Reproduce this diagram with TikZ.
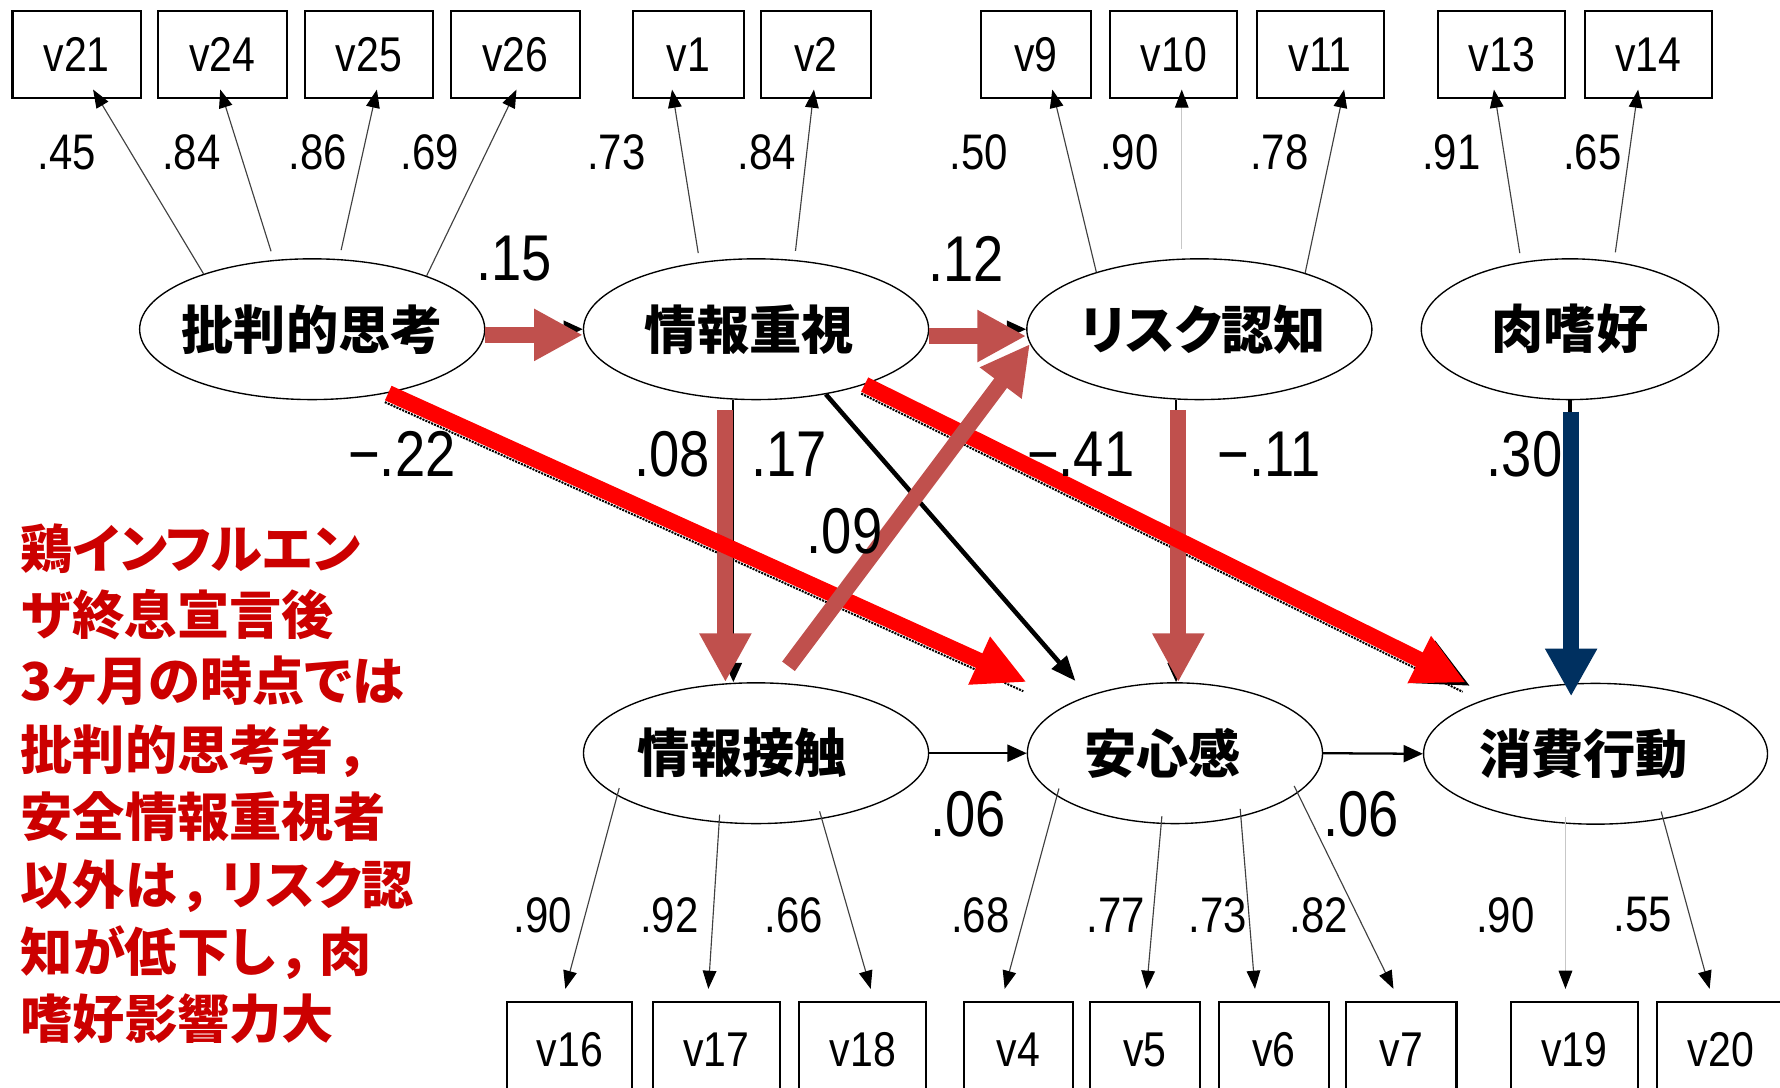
\documentclass[tikz,border=0pt]{standalone}
\usepackage{graphicx}
\usepackage{fontspec}
\setmainfont{Liberation Sans}
\newfontfamily\jpfont{Noto Sans CJK JP}[RawFeature=+palt]
\newfontfamily\jpred{Noto Sans CJK JP}[RawFeature=+palt]
\usetikzlibrary{arrows.meta,calc,shapes.geometric}
\definecolor{brn}{RGB}{192,80,77}
\definecolor{nvy}{RGB}{0,48,96}
\definecolor{txtred}{RGB}{204,0,0}
\newcommand{\nar}[1]{\scalebox{0.84}[1]{#1}}
\newcommand{\elab}[2][0pt]{\makebox[0pt]{\hspace*{#1}#2}}
\newcommand{\jcomma}{\hspace{9pt}，\hspace{7pt}}
\begin{document}
\begin{tikzpicture}[x=1pt,y=-1pt,
  obs/.style={draw,line width=1.8pt,minimum height=76pt,inner sep=0pt,font=\fontsize{43}{43}\selectfont},
  obsb/.style={obs,minimum height=84pt},
  lat/.style={ellipse,draw,line width=1.2pt,minimum height=124pt,inner sep=0pt,font=\jpfont\bfseries\fontsize{46}{46}\selectfont},
  ld/.style={line width=1pt,black!75,-{Triangle[length=16pt,width=12pt,color=black]}},
  ldl/.style={ld,black!22},
  ldb/.style={ld,shorten <=-7pt},
  ldbl/.style={ldl,shorten <=-7pt},
  sl/.style={font=\fontsize{44}{44}\selectfont,inner sep=0pt},
  bl/.style={font=\fontsize{57}{57}\selectfont,inner sep=0pt},
  brw/.style={line width=14pt,brn,-{Triangle[length=43pt,width=43pt]}},
  rd/.style={line width=14pt,red,-{Triangle[length=46pt,width=43pt]}},
  nv/.style={line width=14pt,nvy,-{Triangle[length=42pt,width=43pt]}},
  thinarr/.style={line width=2pt,black,-{Triangle[length=17pt,width=15pt]}},
  redtxt/.style={anchor=base west,inner sep=0pt,text=txtred,font=\jpred\bfseries\fontsize{46}{46}\selectfont}
]
\useasboundingbox (0,0) rectangle (1568,958);
\fill[white] (0,0) rectangle (1568,958);

% observed variables
\foreach \n/\x/\w in {v21/67.5/113, v24/196/113, v25/325/113, v26/454/113, v1/606.5/98, v2/718.5/97, v9/912.5/97, v10/1034/112, v11/1163/112, v13/1323/112, v14/1452/112}
  \node[obs,minimum width=\w] (\n) at (\x,48) {\nar{\n}};
\foreach \n/\x/\w in {v16/502/110, v17/631/112, v18/760/112, v4/897/96, v5/1008.5/97, v6/1122/97, v7/1234.5/97, v19/1387/112, v20/1516/112}
  \node[obsb,minimum width=\w] (\n) at (\x,925) {\nar{\n}};

% latent variables
\node[lat,minimum width=304pt] (e1) at (275,290) {\elab{批判的思考}};
\node[lat,minimum width=304pt] (e2) at (666,290) {\elab[-12pt]{情報重視}};
\node[lat,minimum width=304pt] (e3) at (1056.5,290) {\elab[7pt]{リスク認知}};
\node[lat,minimum width=262pt] (e4) at (1383,290) {\elab{肉嗜好}};
\node[lat,minimum width=304pt] (e5) at (666,663.5) {\elab[-24pt]{情報接触}};
\node[lat,minimum width=260pt] (e6) at (1035,663.5) {\elab[-22pt]{安心感}};
\node[lat,minimum width=303pt] (e7) at (1405.5,664) {\elab[-21pt]{消費行動}};

\coordinate (tipA) at ($(e6.west |- e6.north)$);
\coordinate (tipB) at ($(e7.west |- e7.north)+(38,0)$);
\coordinate (tipC) at ($(e6.west |- e6.north)+(43,-1)$);

% loadings (top)
\draw[ld] (e1.153.2) -- ([xshift=14.5pt,yshift=8pt]v21.south);
\draw[ld,shorten <=8pt] (e1.119.1) -- ([xshift=-2pt,yshift=8pt]v24.south);
\draw[ld,shorten <=8pt] (e1.69.6) -- ([xshift=7pt,yshift=8pt]v25.south);
\draw[ld] (e1.25.7) -- ([xshift=1pt,yshift=8pt]v26.south);
\draw[ld,shorten <=8pt] (e2.130.1) -- ([xshift=-14.5pt,yshift=8pt]v1.south);
\draw[ld,shorten <=8pt] (e2.61.5) -- ([xshift=-1.5pt,yshift=8pt]v2.south);
\draw[ld] (e3.151.4) -- ([xshift=14.5pt,yshift=8pt]v9.south);
\draw[ldl,shorten <=8pt] ([xshift=-15.5pt]e3.north) -- ([xshift=7pt,yshift=8pt]v10.south);
\draw[ld] (e3.28.1) -- ([xshift=21pt,yshift=8pt]v11.south);
\draw[ld,shorten <=8pt] (e4.126.1) -- ([xshift=-7pt,yshift=8pt]v13.south);
\draw[ld,shorten <=8pt] (e4.57.3) -- ([xshift=-9pt,yshift=8pt]v14.south);
% loadings (bottom)
\draw[ldb] (e5.197.3) -- ([xshift=-4pt,yshift=11pt]v16.north);
\draw[ldb] (e5.242.8) -- ([xshift=-7pt,yshift=11pt]v17.north);
\draw[ldb] (e5.315.8) -- ([xshift=7pt,yshift=11pt]v18.north);
\draw[ldb] (e6.200.1) -- ([xshift=-12pt,yshift=11pt]v4.north);
\draw[ldb] (e6.259.2) -- ([xshift=1.5pt,yshift=11pt]v5.north);
\draw[ldb] (e6.316.3) -- ([xshift=-16.5pt,yshift=11pt]v6.north);
\draw[ldb] (e6.342.1) -- ([xshift=-7pt,yshift=11pt]v7.north);
\draw[ldbl] ([xshift=-26.5pt]e7.south) -- ([xshift=-8pt,yshift=11pt]v19.north);
\draw[ldb] (e7.316.9) -- ([xshift=-10pt,yshift=11pt]v20.north);

% original thin paths (under the coloured ones)
\draw[thinarr] (e1.east) -- (e2.west);
\draw[thinarr] (e2.east) -- (e3.west);
\draw[thinarr] ([xshift=-20pt]e2.south) -- ([xshift=-20pt]e5.north);
\draw[thinarr] ([xshift=-20.5pt]e3.south) -- ([xshift=1pt]e6.north);
\draw[thinarr,line width=4pt] (e4.south) -- ([xshift=-22.5pt]e7.north);
\draw[line width=1.8pt,densely dotted] ($(e1.320.2)+(-3,8)$) -- ($(tipA)+(-3,8)$);
\draw[line width=1.8pt,densely dotted] ($(e2.333.2)+(-3,8)$) -- ($(tipB)+(-3,8)$);
\draw[line width=1pt,-{Triangle[length=45pt,width=42pt]}] ($(tipB)+(-40,-20)$) -- ($(tipB)+(3,2.5)$);

% black paths
\draw[thinarr] (e5.east) -- (e6.west);
\draw[thinarr] (e6.east) -- (e7.west);
\draw[line width=4pt,-{Triangle[length=22pt,width=17pt]}] (e2.317) -- (tipC);

% coloured paths
\draw[brw] ([yshift=-5pt]e1.east) -- ([yshift=-5pt]e2.west);
\draw[brw] ([yshift=-6pt]e2.east) -- ([yshift=-6pt]e3.west);
\draw[brw,shorten <=9pt] ([xshift=-27pt]e2.south) -- ([xshift=-27pt]e5.north);
\draw[brw,shorten <=9pt] ([xshift=-18.5pt]e3.south) -- ([xshift=3pt]e6.north);
\draw[rd] (e1.320.2) -- (tipA);
\draw[rd] (e2.333.2) -- (tipB);
\draw[brw,shorten <=18pt] (e5.74.3) -- (e3.185.3);
\draw[nv,shorten <=10pt,shorten >=-12pt] ([xshift=1pt]e4.south) -- ([xshift=-21.5pt]e7.north);

% loading labels
\foreach \t/\x [count=\i] in {.45/59, .84/168.6, .86/280, .69/378.5, .73/543, .84/675.6, .50/862.5, .90/994.7, .78/1127, .91/1278.5, .65/1402.6}
  \node[sl] (la\i) at (\x,134) {\nar{\t}};
\foreach \t/\x [count=\i] in {.90/478, .92/589.5, .66/699, .68/863.5, .77/983, .73/1072.5, .82/1161.5, .90/1326, .55/1447}
  \node[sl] (lb\i) at (\x,806) {\nar{\t}};
% path labels
\foreach \t/\x/\y [count=\i] in {.15/453/228, .12/851/228, −.22/354/400, .08/592/400, .17/695/400, −.41/952/400, −.11/1118/400, .30/1343/400, .09/744/468, .06/853/717, .06/1199/717}
  \node[bl] (lc\i) at (\x,\y) {\nar{\t}};

% annotation
\node[redtxt] (n1) at (18,501) {鶏インフルエン};
\node[redtxt] (n2) at (18,559) {ザ終息宣言後};
\node[redtxt] (n3) at (18,617) {3ヶ月の時点では};
\node[redtxt] (n4) at (18,678) {批判的思考者\jcomma};
\node[redtxt] (n5) at (18,737) {安全情報重視者};
\node[redtxt] (n6) at (18,797) {以外は\jcomma リスク認};
\node[redtxt] (n7) at (18,856) {知が低下し\jcomma 肉};
\node[redtxt] (n8) at (18,915) {嗜好影響力大};
\end{tikzpicture}
\end{document}
